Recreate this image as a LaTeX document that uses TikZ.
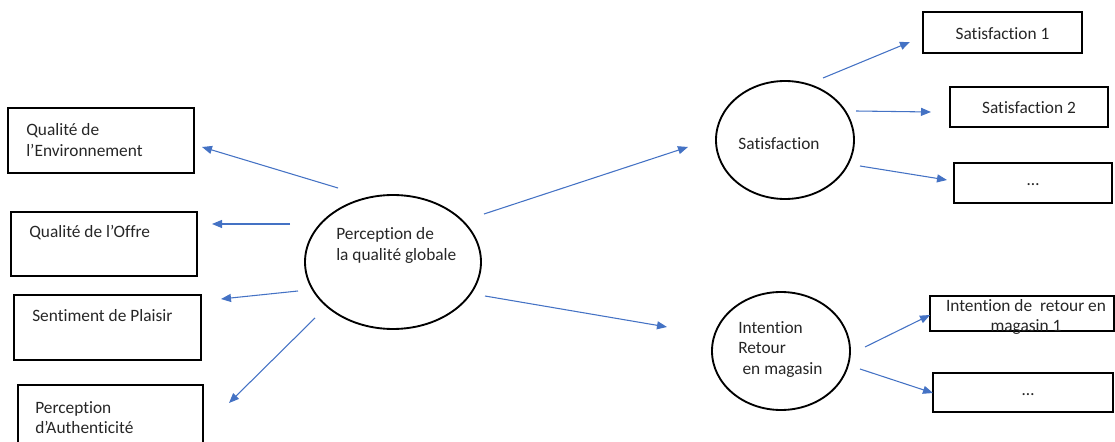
\documentclass[tikz,border=0pt]{standalone}
\usepackage{fontspec}
\setmainfont{Carlito}[Ligatures={NoCommon,NoRequired,NoContextual}]
\usetikzlibrary{arrows.meta}
\definecolor{arrblue}{HTML}{4472C4}
\tikzset{
  box/.style={draw=black, line width=1.4pt, rectangle, inner sep=0pt},
  oval/.style={draw=black, line width=1.4pt, ellipse, inner sep=0pt},
  txt/.style={inner sep=0pt, font=\fontsize{13}{15.5}\selectfont, text=black!85},
  arr/.style={draw=arrblue, line width=0.8pt, -{Triangle[length=7.5pt,width=6pt]}},
}
\usetikzlibrary{shapes.geometric}
\begin{document}
\begin{tikzpicture}[x=0.75pt,y=-0.75pt]
\useasboundingbox (0,0) rectangle (1115,442);
% left boxes
\node[box, minimum width=186*0.75pt, minimum height=65*0.75pt] (b1) at (101,140.5) {};
\node[box, minimum width=186*0.75pt, minimum height=64*0.75pt] (b2) at (104,244) {};
\node[box, minimum width=187*0.75pt, minimum height=65*0.75pt] (b3) at (107.5,327.5) {};
\node[box, minimum width=185*0.75pt, minimum height=70*0.75pt] (b4) at (110.5,420) {};
\node[txt, anchor=west, align=left] (t1) at (26,140) {Qualité de\\l’Environnement};
\node[txt, anchor=west] (t2) at (29,233) {Qualité de l’Offre};
\node[txt, anchor=west] (t3) at (32,316) {Sentiment de Plaisir};
\node[txt, anchor=west, align=left] (t4) at (35,417.5) {Perception\\d’Authenticité};
% central ellipse
\node[oval, minimum width=176*0.75pt, minimum height=134*0.75pt] (c) at (393,262) {};
\node[txt, anchor=west, align=left] (ct) at (336,245.5) {Perception de\\la qualité globale};
% satisfaction
\node[oval, minimum width=138*0.75pt, minimum height=118*0.75pt] (s) at (785,140) {};
\node[txt] (st) at (779,143.5) {Satisfaction};
\node[box, minimum width=159*0.75pt, minimum height=41*0.75pt] (s1) at (1002.5,32.5) {};
\node[box, minimum width=158*0.75pt, minimum height=40*0.75pt] (s2) at (1029,107) {};
\node[box, minimum width=158*0.75pt, minimum height=40*0.75pt] (s3) at (1033,183) {};
\node[txt] (s1t) at (1002.5,34) {Satisfaction 1};
\node[txt] (s2t) at (1029,107.5) {Satisfaction 2};
\node[txt] (s3t) at (1033,185) {…};
% intention
\node[oval, minimum width=138*0.75pt, minimum height=118*0.75pt] (r) at (781,351) {};
\node[txt, anchor=west, align=left] (rt) at (738,349.5) {Intention\\Retour\\\hspace*{0.25em}en magasin};
\node[box, minimum width=184*0.75pt, minimum height=35*0.75pt] (r1) at (1022,313.5) {};
\node[box, minimum width=180*0.75pt, minimum height=39*0.75pt] (r2) at (1023,392.5) {};
\node[txt, align=center] (r1t) at (1026,317) {Intention de \ retour en\\magasin 1};
\node[txt] (r2t) at (1028,395) {…};
% arrow end points
\coordinate (a1s) at (338,188); \coordinate (a1e) at (202,147);
\coordinate (a2s) at (290,224); \coordinate (a2e) at (212,224);
\coordinate (a3s) at (298,291); \coordinate (a3e) at (221,299);
\coordinate (a4s) at (315,318); \coordinate (a4e) at (229,403);
\coordinate (a5s) at (484,214); \coordinate (a5e) at (688,147);
\coordinate (a6s) at (485,296); \coordinate (a6e) at (667,327);
\coordinate (a7s) at (823,78);  \coordinate (a7e) at (910,42);
\coordinate (a8s) at (856,111); \coordinate (a8e) at (931,112);
\coordinate (a9s) at (860,166); \coordinate (a9e) at (947,180);
\coordinate (a10s) at (865,347); \coordinate (a10e) at (930,315);
\coordinate (a11s) at (860,369); \coordinate (a11e) at (933,393);
\foreach \i in {1,...,11} { \draw[arr] (a\i s) -- (a\i e); }
\end{tikzpicture}
\end{document}
